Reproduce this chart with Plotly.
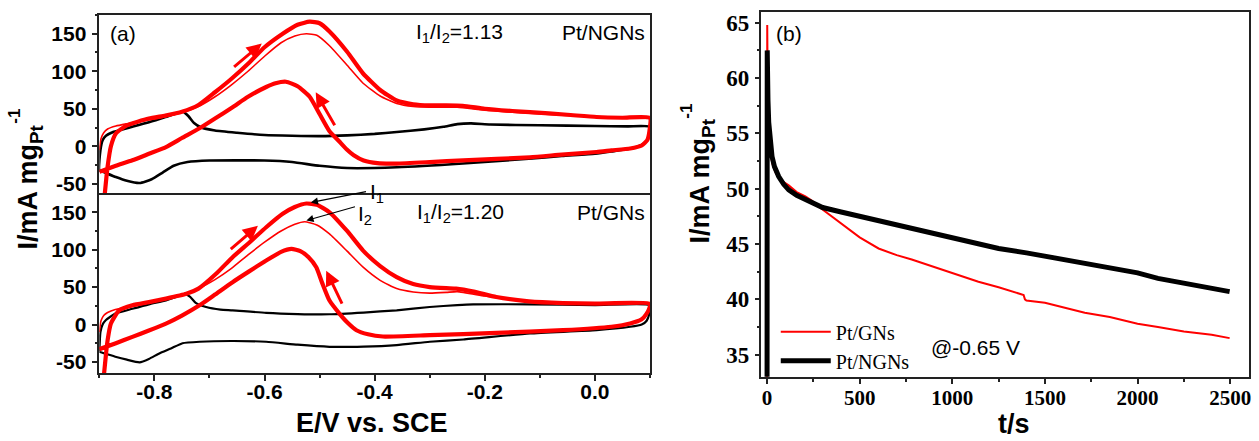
import plotly.graph_objects as go

RED = '#ff0000'
BLK = '#000000'

# ---------------- Panel (a) top : Pt/NGNs ----------------
ngn_bg_E = [-0.900, -0.898, -0.894, -0.888, -0.875, -0.860, -0.840, -0.810, -0.780, -0.760, -0.748,
            -0.738, -0.728, -0.715, -0.690, -0.650, -0.600, -0.550, -0.500, -0.450, -0.400, -0.360,
            -0.310, -0.275, -0.250, -0.225, -0.190, -0.100, 0.000, 0.060, 0.100,
            0.099, 0.095, 0.085, 0.064, 0.030, 0.000, -0.060, -0.120, -0.240, -0.360, -0.450,
            -0.500, -0.550, -0.600, -0.700, -0.740, -0.765, -0.785, -0.805, -0.827, -0.850,
            -0.870, -0.890, -0.900]
ngn_bg_I = [-32, -5, 8, 14, 19, 22, 26, 32, 39, 44, 46,
            40, 31, 25, 21, 18, 15, 14, 13.5, 14.5, 16.5, 19,
            22.5, 26, 29.5, 30.5, 29, 28, 27, 26.5, 26,
            15, 8, 2, -3, -7, -10, -13, -16.5, -23, -28, -29,
            -26, -21, -19, -19, -21, -26, -35, -44, -49, -46,
            -41, -35, -32]

ngn_thin_E = [-0.900, -0.897, -0.892, -0.885, -0.870, -0.850, -0.820, -0.780, -0.750, -0.720, -0.690,
              -0.660, -0.630, -0.600, -0.570, -0.545, -0.524, -0.505, -0.482, -0.450, -0.421, -0.390,
              -0.360, -0.330, -0.300, -0.250, -0.200, -0.120, 0.000, 0.100]
ngn_thin_I = [-5, 10, 18, 23, 27, 30, 34, 39, 45, 53, 66,
              82, 100, 120, 138, 147, 150, 148, 134, 108, 84, 67,
              57, 53, 52, 52, 48, 44, 39, 37]

ngn_thick_E = [-0.891, -0.887, -0.885, -0.879, -0.870, -0.850, -0.810, -0.780, -0.750, -0.720, -0.690,
               -0.660, -0.627, -0.600, -0.567, -0.540, -0.518, -0.500, -0.482, -0.450, -0.421, -0.390,
               -0.360, -0.330, -0.300, -0.270, -0.240, -0.200, -0.150, -0.118, -0.050, 0.003, 0.050, 0.100,
               0.099, 0.095, 0.085, 0.064, 0.030, 0.003, -0.060, -0.118, -0.239, -0.300, -0.360, -0.395,
               -0.420, -0.438, -0.451, -0.465, -0.482, -0.500, -0.518, -0.540, -0.561, -0.580, -0.597,
               -0.630, -0.658, -0.690, -0.718, -0.750, -0.779, -0.810, -0.840, -0.870, -0.900]
ngn_thick_I = [-70, -40, -27, 0, 17, 28, 37, 41, 46, 55, 72,
               90, 112, 132, 150, 162, 166, 164, 153, 126, 97, 75,
               61, 56, 54.5, 54.5, 54, 50, 47, 45.5, 42, 39, 38, 38,
               20, 8, 1, -3, -5.5, -7.6, -11, -14.7, -18.7, -21, -23, -22.5,
               -19, -12, -4, 7, 20, 43, 66, 80, 86, 84, 79,
               66, 52, 37, 24, 11, -1, -10, -18.7, -26, -34]

# ---------------- Panel (a) bottom : Pt/GNs ----------------
gn_bg_E = [-0.900, -0.898, -0.894, -0.888, -0.871, -0.840, -0.810, -0.779, -0.760, -0.745,
           -0.735, -0.725, -0.706, -0.680, -0.658, -0.597, -0.540, -0.482, -0.420, -0.360,
           -0.300, -0.250, -0.221, -0.118, 0.000, 0.100,
           0.099, 0.094, 0.085, 0.064, 0.003, -0.118, -0.239, -0.300, -0.360, -0.420, -0.482,
           -0.540, -0.597, -0.660, -0.718, -0.749, -0.770, -0.791, -0.810, -0.827, -0.850,
           -0.871, -0.900]
gn_bg_I = [-36, -10, 0, 6, 14.6, 21, 27, 32.3, 37, 41,
           37, 29, 23.4, 20, 19, 15.5, 14, 13.7, 16, 19,
           23.4, 26, 27, 27, 26, 25.7,
           15, 5, 0, -3, -7.6, -12, -20, -23, -27.5, -29.5, -29.8,
           -27, -23, -22, -23, -25, -32, -38.6, -46, -50.5, -47,
           -43, -36.4]

gn_thin_E = [-0.900, -0.897, -0.892, -0.885, -0.871, -0.840, -0.810, -0.779, -0.750, -0.720, -0.690,
             -0.660, -0.630, -0.600, -0.570, -0.545, -0.527, -0.505, -0.482, -0.450, -0.421, -0.390,
             -0.360, -0.330, -0.300, -0.270, -0.250, -0.200, -0.150, -0.100, 0.000, 0.100]
gn_thin_I = [-10, 5, 12, 16, 20, 24, 29, 34, 40, 48, 60,
             75, 93, 110, 125, 134, 137.4, 133, 121, 98, 76.6, 59,
             48, 43.5, 42, 43, 44, 38, 33, 30, 28.5, 28]

gn_thick_E = [-0.892, -0.888, -0.885, -0.879, -0.864, -0.840, -0.810, -0.779, -0.742, -0.720, -0.688,
              -0.658, -0.627, -0.597, -0.567, -0.545, -0.524, -0.505, -0.482, -0.450, -0.421, -0.390,
              -0.360, -0.330, -0.300, -0.270, -0.252, -0.220, -0.179, -0.120, -0.058, 0.000, 0.100,
              0.099, 0.094, 0.085, 0.064, 0.030, -0.058, -0.179, -0.300, -0.385, -0.412, -0.433,
              -0.450, -0.464, -0.482, -0.495, -0.506, -0.520, -0.535, -0.551, -0.570, -0.597, -0.628,
              -0.658, -0.690, -0.718, -0.750, -0.779, -0.810, -0.840, -0.870, -0.900]
gn_thick_I = [-70, -40, -21, 1.3, 19, 25.7, 30, 34.6, 41, 48, 67.8,
              90, 110, 130, 148, 157, 161.7, 160, 150, 125, 98.8, 78,
              63.3, 54, 50, 48.5, 48, 44, 36.7, 31, 28.7, 28, 27.9,
              22, 14.6, 7, 1.3, -3, -7.6, -11.2, -14.2, -16, -13, -7.6,
              3, 14.6, 32, 55, 76.6, 90, 98, 101, 97, 85.5, 71,
              56.6, 40, 25.7, 12, 1.3, -8, -16.5, -25, -33]

# ---------------- Panel (b) : chronoamperometry ----------------
t_gn = [0, 1, 2, 4, 8, 13, 20, 30, 45, 63, 90, 117, 160, 207, 243, 278, 332, 422, 500, 602,
        700, 781, 870, 961, 1050, 1141, 1250, 1385, 1392, 1400, 1500, 1600, 1715, 1850, 2000,
        2110, 2250, 2400, 2497]
i_gn = [30, 64.8, 61, 58, 55.5, 54, 53, 52.2, 51.5, 51.0, 50.6, 50.3, 49.7, 49.3, 48.9, 48.4,
        47.7, 46.6, 45.6, 44.6, 44.0, 43.6, 43.1, 42.6, 42.1, 41.6, 41.1, 40.4, 40.0, 39.9, 39.7,
        39.3, 38.8, 38.4, 37.8, 37.5, 37.1, 36.8, 36.5]

t_ngn = [0, 1, 3, 5, 9, 13, 20, 27, 40, 63, 90, 117, 160, 207, 260, 300, 400, 500, 600, 700,
         800, 900, 1000, 1141, 1250, 1400, 1572, 1750, 2000, 2110, 2250, 2400, 2497]
i_ngn = [30, 62.5, 60, 58, 56, 55, 53.8, 52.9, 52, 51.1, 50.4, 49.9, 49.4, 49.0, 48.6, 48.3,
         47.9, 47.5, 47.1, 46.7, 46.3, 45.9, 45.5, 45.0, 44.6, 44.2, 43.7, 43.2, 42.4, 41.9,
         41.5, 41.0, 40.7]

cv_xticks = [-0.8, -0.6, -0.4, -0.2, 0.0]
cv_xtext = ['-0.8', '-0.6', '-0.4', '-0.2', '0.0']
cv_yticks = [-50, 0, 50, 100, 150]
cv_ytext = ['-50', '0', '50', '100', '150']
ca_xticks = [0, 500, 1000, 1500, 2000, 2500]
ca_yticks = [35, 40, 45, 50, 55, 60, 65]

fig = go.Figure()

def cv(E, I, xa, ya, color, width):
    fig.add_trace(go.Scatter(x=E, y=I, xaxis=xa, yaxis=ya, mode='lines',
                             line=dict(color=color, width=width, shape='spline', smoothing=0.5),
                             showlegend=False, hoverinfo='skip'))

cv(ngn_bg_E, ngn_bg_I, 'x', 'y', BLK, 2.6)
cv(ngn_thin_E, ngn_thin_I, 'x', 'y', RED, 1.6)
cv(ngn_thick_E, ngn_thick_I, 'x', 'y', RED, 4.2)
cv(gn_bg_E, gn_bg_I, 'x2', 'y2', BLK, 2.2)
cv(gn_thin_E, gn_thin_I, 'x2', 'y2', RED, 1.6)
cv(gn_thick_E, gn_thick_I, 'x2', 'y2', RED, 4.2)

fig.add_trace(go.Scatter(x=t_gn, y=i_gn, xaxis='x3', yaxis='y3', mode='lines', name='Pt/GNs',
                         line=dict(color=RED, width=2)))
fig.add_trace(go.Scatter(x=t_ngn, y=i_ngn, xaxis='x3', yaxis='y3', mode='lines', name='Pt/NGNs',
                         line=dict(color=BLK, width=5)))

W, H = 1259, 441
def px(x):
    return x / W
def py(y):
    return 1 - y / H

AX = '#222222'
sans_b = dict(family='Liberation Sans', size=21, color='black', weight='bold')
serif_b = dict(family='Liberation Serif', size=21, color='black', weight='bold')
serif_by = dict(family='Liberation Serif', size=23, color='black', weight='bold')

xdom_l = [px(99.5), px(651)]
xdom_r = [px(762.7), px(1250.7)]
ydom_t = [py(194.5), py(14)]
ydom_b = [py(373), py(194.5)]
ydom_r = [py(376.7), py(10.7)]

base = dict(showline=True, linecolor=AX, linewidth=1.5, mirror=True, showgrid=False,
            zeroline=False, tickcolor=AX, tickwidth=1.5)

fig.update_layout(
    width=W, height=H, margin=dict(l=0, r=0, t=0, b=0),
    paper_bgcolor='white', plot_bgcolor='white',
    xaxis=dict(base, domain=xdom_l, anchor='y', range=[-0.9, 0.1], showticklabels=False,
               ticks='', side='top', mirror=False),
    yaxis=dict(base, domain=ydom_t, anchor='x', range=[-65, 175], tickmode='array',
               tickvals=cv_yticks, ticktext=cv_ytext, ticks='outside', ticklen=6,
               tickfont=sans_b, ticklabelstandoff=1,
               minor=dict(tickmode='linear', tick0=0, dtick=25, ticks='outside', ticklen=3,
                          tickcolor=AX, tickwidth=1.5)),
    xaxis2=dict(base, domain=xdom_l, anchor='y2', range=[-0.9, 0.1], tickmode='array',
                tickvals=cv_xticks, ticktext=cv_xtext, ticks='outside', ticklen=6,
                tickfont=sans_b, ticklabelstandoff=-7,
                minor=dict(tickmode='linear', tick0=0, dtick=0.1, ticks='outside', ticklen=3,
                           tickcolor=AX, tickwidth=1.5)),
    yaxis2=dict(base, domain=ydom_b, anchor='x2', range=[-65, 173], tickmode='array',
                tickvals=cv_yticks, ticktext=cv_ytext, ticks='outside', ticklen=6,
                tickfont=sans_b, ticklabelstandoff=1,
                minor=dict(tickmode='linear', tick0=0, dtick=25, ticks='outside', ticklen=3,
                           tickcolor=AX, tickwidth=1.5)),
    xaxis3=dict(base, domain=xdom_r, anchor='y3', range=[-30, 2600], tickmode='array',
                tickvals=ca_xticks, ticks='outside', ticklen=5, tickfont=serif_b,
                ticklabelstandoff=-4,
                minor=dict(tickmode='linear', tick0=0, dtick=250, ticks='outside', ticklen=3,
                           tickcolor=AX, tickwidth=1.5)),
    yaxis3=dict(base, domain=ydom_r, anchor='x3', range=[33, 66], tickmode='array',
                tickvals=ca_yticks, ticks='outside', ticklen=5, tickfont=serif_by,
                ticklabelstandoff=1,
                minor=dict(tickmode='linear', tick0=0, dtick=2.5, ticks='outside', ticklen=3,
                           tickcolor=AX, tickwidth=1.5)),
    legend=dict(x=px(777), y=py(312), xanchor='left', yanchor='top', bgcolor='rgba(0,0,0,0)',
                font=dict(family='Liberation Serif', size=20, color='black'),
                itemwidth=50, tracegroupgap=0, traceorder='normal'),
)

ann = []
def txt(x, y, s, size=20, family='Liberation Sans', bold=False, xanchor='center', angle=0):
    ann.append(dict(x=px(x), y=py(y), xref='paper', yref='paper', text=s, showarrow=False,
                    xanchor=xanchor, yanchor='middle', textangle=angle,
                    font=dict(family=family, size=size, color='black',
                              weight='bold' if bold else 'normal')))

txt(123, 33, '(a)', 21)
txt(460, 32, 'I<sub>1</sub>/I<sub>2</sub>=1.13', 21)
txt(648, 32, 'Pt/NGNs', 21, xanchor='right')
txt(461, 212, 'I<sub>1</sub>/I<sub>2</sub>=1.20', 21)
txt(648, 212, 'Pt/GNs', 21, xanchor='right')
txt(378, 192, 'I<sub>1</sub>', 21)
txt(366, 214, 'I<sub>2</sub>', 21)
txt(790, 33, '(b)', 21)
txt(930, 347, '@-0.65 V', 21, xanchor='left')
txt(373, 423, 'E/V vs. SCE', 27, bold=True)
txt(1016, 424, 't/s', 27, bold=True)
txt(30, 186, 'I/mA mg<sub>Pt</sub>', 27, bold=True, angle=-90)
txt(15, 115, '-1', 17, bold=True, angle=-90)
txt(703, 180, 'I/mA mg<sub>Pt</sub>', 27, bold=True, angle=-90)
txt(688, 110, '-1', 17, bold=True, angle=-90)

def arrow(xa, ya, x0, y0, x1, y1, color, width, head, size):
    ann.append(dict(x=x1, y=y1, ax=x0, ay=y0, xref=xa, yref=ya, axref=xa, ayref=ya, text='',
                    showarrow=True, arrowhead=head, arrowsize=size, arrowwidth=width,
                    arrowcolor=color))

# red scan-direction arrows
arrow('x', 'y', -0.658, 104, -0.605, 137, RED, 3, 2, 1.0)
arrow('x', 'y', -0.471, 26, -0.507, 72, RED, 3, 2, 1.0)
arrow('x2', 'y2', -0.664, 99, -0.612, 132, RED, 3, 2, 1.0)
arrow('x2', 'y2', -0.458, 26, -0.488, 72, RED, 3, 2, 1.0)
# I1 / I2 pointers
arrow('x2', 'y2', -0.413, 178, -0.516, 163, BLK, 1.2, 2, 1.2)
arrow('x2', 'y2', -0.433, 158, -0.524, 139, BLK, 1.2, 2, 1.2)

fig.update_layout(annotations=ann)

fig.write_html("out.html", config={'displayModeBar': False},
               post_script="document.body.style.margin='0';")
